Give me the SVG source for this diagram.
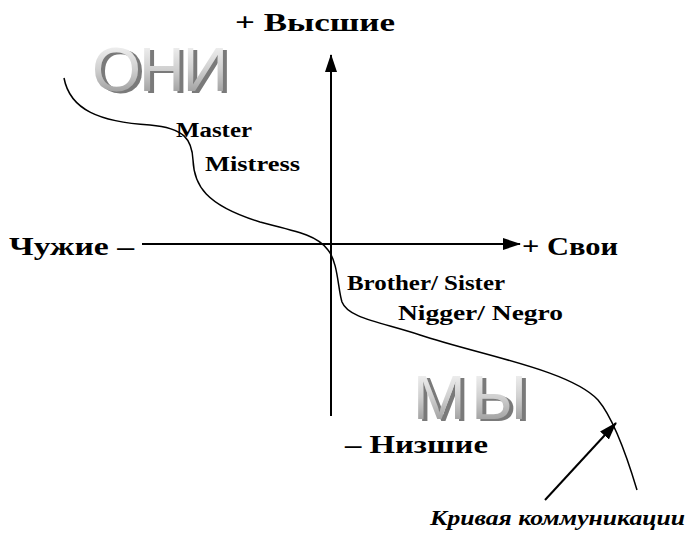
<svg xmlns="http://www.w3.org/2000/svg" width="689" height="537" viewBox="0 0 689 537">
<style>
.lbl{font-family:"Liberation Serif",serif;font-weight:bold;fill:#000}
.big{font-size:25px}
.sm{font-size:20px}
.it{font-style:italic;font-size:21px}
.axis{stroke:#000;stroke-width:2;fill:none}
.curve{stroke:#000;stroke-width:1.5;fill:none}
.gl{font-family:"Liberation Sans",Arial,sans-serif;font-size:63px;fill:url(#g);filter:url(#sh)}
</style>
<defs>
<marker id="ah2" markerWidth="18" markerHeight="12" refX="17" refY="6" orient="auto" markerUnits="userSpaceOnUse" viewBox="0 0 18 12">
<path d="M0,0 L18,6 L0,12 z" fill="#000"/>
</marker>
<linearGradient id="g" x1="0" y1="0" x2="0" y2="1">
<stop offset="0" stop-color="#ffffff"/>
<stop offset="0.5" stop-color="#d0d0d0"/>
<stop offset="1" stop-color="#8a8a8a"/>
</linearGradient>
<filter id="sh" x="-10%" y="-20%" width="130%" height="150%">
<feOffset in="SourceAlpha" dx="4" dy="2" result="o"/>
<feFlood flood-color="#7a7a7a"/>
<feComposite in2="o" operator="in" result="s"/>
<feMerge><feMergeNode in="s"/><feMergeNode in="SourceGraphic"/></feMerge>
</filter>
</defs>
<g id="connectors">
<line class="axis" x1="331" y1="416" x2="331" y2="55" marker-end="url(#ah2)"/>
<line class="axis" x1="142" y1="244" x2="520" y2="244" marker-end="url(#ah2)"/>
<path class="curve" d="M64,78 C70,110 100,122 150,125 C185,128 192,140 193,160 C194,185 205,205 260,222 C300,232 318,236 328,250 C338,262 338,290 342,302 C348,318 380,322 420,335 C480,355 570,370 598,400 C615,420 628,460 637,490"/>
<line class="axis" x1="545" y1="500" x2="616" y2="423" marker-end="url(#ah2)"/>
</g>
<g id="oni">
<text class="gl" x="92" y="91" textLength="136" lengthAdjust="spacing">ОНИ</text>
</g>
<g id="my">
<text class="gl" x="413" y="419" textLength="114" lengthAdjust="spacing">МЫ</text>
</g>
<g id="top"><text class="lbl big" x="235" y="31" textLength="160" lengthAdjust="spacingAndGlyphs">+ Высшие</text></g>
<g id="left"><text class="lbl big" x="9" y="255" textLength="125" lengthAdjust="spacingAndGlyphs">Чужие –</text></g>
<g id="right"><text class="lbl big" x="522" y="255" textLength="96" lengthAdjust="spacingAndGlyphs">+ Свои</text></g>
<g id="bottom"><text class="lbl big" x="345" y="453" textLength="143" lengthAdjust="spacingAndGlyphs">– Низшие</text></g>
<g id="master"><text class="lbl sm" x="176" y="137" textLength="76" lengthAdjust="spacingAndGlyphs">Master</text></g>
<g id="mistress"><text class="lbl sm" x="205" y="171" textLength="95" lengthAdjust="spacingAndGlyphs">Mistress</text></g>
<g id="brother"><text class="lbl sm" x="347" y="290" textLength="158" lengthAdjust="spacingAndGlyphs">Brother/ Sister</text></g>
<g id="nigger"><text class="lbl sm" x="398" y="320" textLength="165" lengthAdjust="spacingAndGlyphs">Nigger/ Negro</text></g>
<g id="curve-label"><text class="lbl it" x="430" y="525" textLength="255" lengthAdjust="spacingAndGlyphs">Кривая коммуникации</text></g>
</svg>
